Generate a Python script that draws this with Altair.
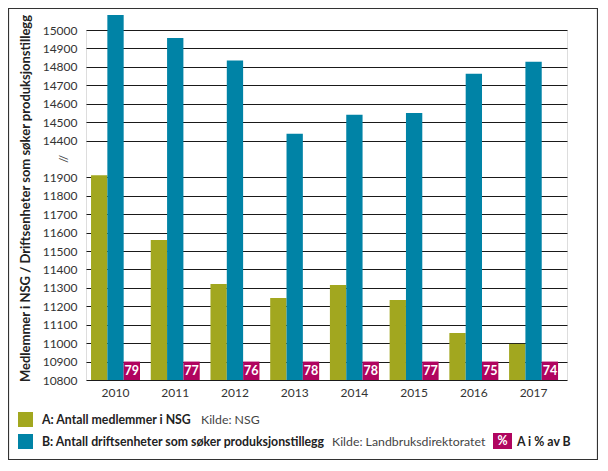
import altair as alt
import pandas as pd

years = ["2010", "2011", "2012", "2013", "2014", "2015", "2016", "2017"]
members_a = [11911, 11560, 11321, 11245, 11316, 11234, 11055, 10996]
units_b = [15081, 14957, 14834, 14437, 14540, 14550, 14762, 14827]
pct_labels = ["79", "77", "76", "78", "78", "77", "75", "74"]
tick_lower = [10800, 10900, 11000, 11100, 11200, 11300, 11400, 11500, 11600, 11700, 11800, 11900]
tick_upper = [14400, 14500, 14600, 14700, 14800, 14900, 15000]

GAP = 2300  # broken axis: 14400 is drawn where 12100 would be
def disp(v):
    return v if v < 13000 else v - GAP

GREEN = "#A2A71F"
BLUE = "#0083A6"
MAGENTA = "#B0045F"
FONT = "Lato"

rows = []
for y, a, b in zip(years, members_a, units_b):
    rows.append({"year": y, "series": "A", "value": a, "disp": disp(a)})
    rows.append({"year": y, "series": "B", "value": b, "disp": disp(b)})
bars_df = pd.DataFrame(rows)
pct_df = pd.DataFrame({"year": years, "series": ["P"] * len(years), "label": pct_labels})

tick_vals = tick_lower + [disp(v) for v in tick_upper]

xscale = alt.Scale(paddingInner=0.18, paddingOuter=0.117, align=0.36)
offscale = alt.Scale(domain=["A", "B", "P"], paddingInner=0, paddingOuter=0)
yscale = alt.Scale(domain=[10800, 12700], zero=False, nice=False)

x_axis = alt.Axis(title=None, labelAngle=0, ticks=False, domain=False,
                  labelPadding=7, labelFontSize=12, labelColor="#333333",
                  labelFont=FONT)
y_axis = alt.Axis(values=tick_vals, grid=True, gridColor="#1a1a1a", gridWidth=1.2,
                  ticks=False, domain=False, labelPadding=9, labelFontSize=12,
                  labelColor="#333333", labelFont=FONT, labelOverlap=False,
                  labelExpr=f"datum.value > 12000 ? format(datum.value + {GAP}, 'd') : format(datum.value, 'd')",
                  title="Medlemmer i NSG /  Driftsenheter som søker produksjonstillegg",
                  titleFont=FONT, titleFontSize=13, titleFontWeight="bold", titleColor="#222222",
                  titleX=-61, titleY=168, titleAngle=270, titleAlign="center", titleBaseline="middle")

bars = alt.Chart(bars_df).mark_bar().encode(
    x=alt.X("year:N", scale=xscale, sort=years, axis=x_axis),
    xOffset=alt.XOffset("series:N", scale=offscale),
    y=alt.Y("disp:Q", scale=yscale, axis=y_axis),
    y2=alt.datum(10800),
    color=alt.Color("series:N", scale=alt.Scale(domain=["A", "B"], range=[GREEN, BLUE]), legend=None),
)

pct_box = alt.Chart(pct_df).mark_bar(color=MAGENTA).encode(
    x=alt.X("year:N", scale=xscale, sort=years, axis=x_axis),
    xOffset=alt.XOffset("series:N", scale=offscale),
    y=alt.YDatum(10900, scale=yscale, axis=y_axis),
    y2=alt.datum(10800),
)
pct_text = alt.Chart(pct_df).mark_text(color="white", fontWeight="bold", fontSize=12.5,
                                       font=FONT, baseline="middle").encode(
    x=alt.X("year:N", scale=xscale, sort=years, axis=x_axis),
    xOffset=alt.XOffset("series:N", scale=offscale),
    y=alt.YDatum(10850, scale=yscale, axis=y_axis),
    text="label:N",
)

one = pd.DataFrame({"k": [0]})
brk = alt.Chart(one).mark_text(text="//", angle=270, fontSize=12, color="#444444", font=FONT,
                               baseline="middle").encode(
    x=alt.value(-22), y=alt.YDatum(12000, scale=yscale, axis=y_axis))

frame = alt.Chart(one).mark_rect(fillOpacity=0, stroke="#333333", strokeWidth=1.2).encode(
    x=alt.value(-77.5), x2=alt.value(511.5), y=alt.value(-21.5), y2=alt.value(429.5))

sq_a = alt.Chart(one).mark_rect(color=GREEN).encode(
    x=alt.value(-68), x2=alt.value(-53), y=alt.value(382), y2=alt.value(397))
sq_b = alt.Chart(one).mark_rect(color=BLUE).encode(
    x=alt.value(-68), x2=alt.value(-53), y=alt.value(404), y2=alt.value(419))
sq_p = alt.Chart(one).mark_rect(color=MAGENTA).encode(
    x=alt.value(407), x2=alt.value(426), y=alt.value(403), y2=alt.value(419))

def txt(s, x, y, bold=False, color="#222222", align="left", size=12.3):
    return alt.Chart(one).mark_text(text=s, align=align, baseline="middle", fontSize=size, font=FONT,
                                    fontWeight="bold" if bold else "normal", color=color).encode(
        x=alt.value(x), y=alt.value(y))

legend = [
    sq_a, sq_b, sq_p,
    txt("A: Antall medlemmer i NSG", -44, 389.5, bold=True),
    txt("Kilde: NSG", 115, 389.5, color="#444444"),
    txt("B: Antall driftsenheter som søker produksjonstillegg", -44, 411.5, bold=True),
    txt("Kilde: Landbruksdirektoratet", 246, 411.5, color="#444444"),
    txt("%", 416.5, 411, bold=True, color="white", align="center"),
    txt("A i % av B", 431, 411.5, bold=True),
]

chart = alt.layer(bars, pct_box, pct_text, brk, frame, *legend).properties(
    width=481, height=350,
    autosize=alt.AutoSizeParams(type="none"),
    padding={"left": 78, "top": 22, "right": 31, "bottom": 80},
).configure_view(stroke=None).configure(font=FONT)

chart.save("out.html", embed_options={"renderer": "svg", "actions": False})
